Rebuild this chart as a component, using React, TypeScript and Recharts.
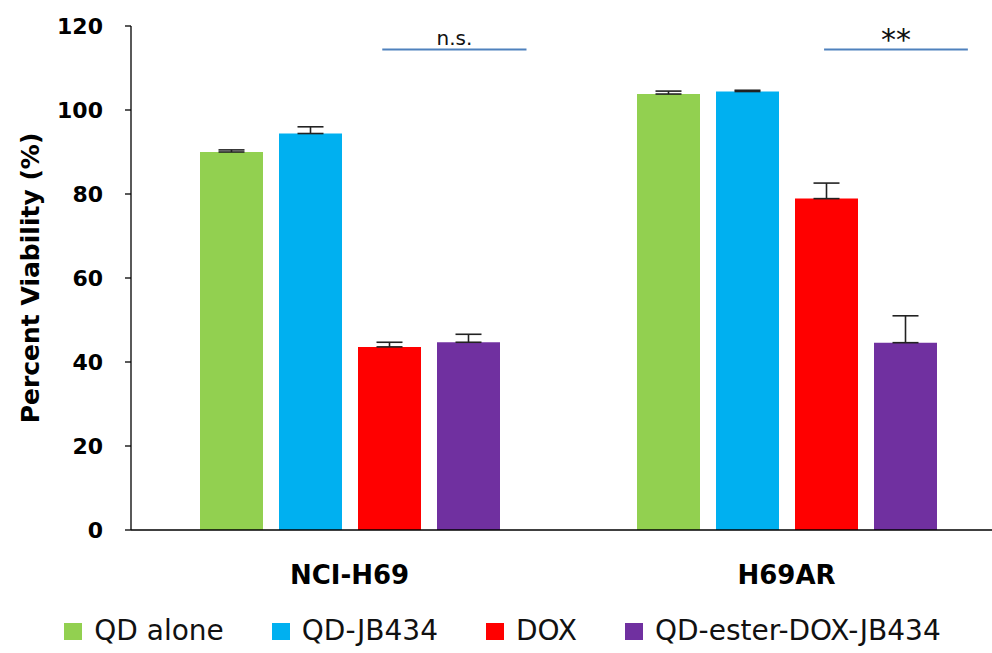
import React from "react";
import {
  BarChart,
  Bar,
  XAxis,
  YAxis,
  ErrorBar,
  Legend,
  ReferenceLine,
} from "recharts";

const cellLines = ["NCI-H69", "H69AR"];
const qdAlone = [90.0, 103.8];
const qdAloneErr = [0.5, 0.7];
const qdJb434 = [94.4, 104.4];
const qdJb434Err = [1.6, 0.3];
const dox = [43.6, 78.9];
const doxErr = [1.1, 3.7];
const qdEster = [44.7, 44.6];
const qdEsterErr = [1.9, 6.4];
const yTicks = [0, 20, 40, 60, 80, 100, 120];

// significance brackets: label, start/end as a fraction of the plot width, height in %
const sigLabels = ["n.s.", "**"];
const sigFrom = [0.2875, 0.793];
const sigTo = [0.4525, 0.9575];
const sigLevel = [114.4, 114.4];

const series = [
  { key: "qdAlone", name: "QD alone", color: "#92D050" },
  { key: "qdJb434", name: "QD-JB434", color: "#00B0F0" },
  { key: "dox", name: "DOX", color: "#FF0000" },
  { key: "qdEster", name: "QD-ester-DOX-JB434", color: "#7030A0" },
];

const data = cellLines.map((name, i) => ({
  name,
  qdAlone: qdAlone[i],
  qdAloneErr: [0, qdAloneErr[i]],
  qdJb434: qdJb434[i],
  qdJb434Err: [0, qdJb434Err[i]],
  dox: dox[i],
  doxErr: [0, doxErr[i]],
  qdEster: qdEster[i],
  qdEsterErr: [0, qdEsterErr[i]],
}));

const font = "'DejaVu Sans', sans-serif";

function LegendRow() {
  return (
    <div
      style={{
        boxSizing: "border-box",
        height: 40,
        paddingBottom: 8,
        display: "flex",
        alignItems: "flex-end",
        justifyContent: "center",
        gap: 48,
        fontFamily: font,
        fontSize: 28,
        lineHeight: "28px",
        color: "#111",
        whiteSpace: "nowrap",
      }}
    >
      {series.map((s) => (
        <div key={s.key} style={{ display: "flex", alignItems: "center" }}>
          <span
            style={{
              width: 18,
              height: 17,
              background: s.color,
              marginRight: 12,
              display: "inline-block",
            }}
          />
          <span>{s.name}</span>
        </div>
      ))}
    </div>
  );
}

export default function App() {
  return (
    <div
      style={{
        position: "fixed",
        left: 0,
        top: 0,
        width: 992,
        height: 653,
        overflow: "hidden",
        background: "#fff",
      }}
    >
      <BarChart
        width={1005}
        height={653}
        data={data}
        margin={{ top: 26, right: 0, left: 0, bottom: 0 }}
        barCategoryGap={68}
        barGap={16}
      >
        <XAxis
          dataKey="name"
          tickLine={false}
          axisLine={{ stroke: "#000", strokeWidth: 1.3 }}
          tick={{ fill: "#000", fontSize: 26, fontWeight: 700, fontFamily: font }}
          tickMargin={30}
          height={83}
        />
        <XAxis
          xAxisId="sig"
          type="number"
          domain={[0, 1]}
          allowDataOverflow
          hide
        />
        <YAxis
          domain={[0, 120]}
          ticks={yTicks}
          width={131}
          tickSize={6}
          tickMargin={22}
          axisLine={{ stroke: "#000", strokeWidth: 1.3 }}
          tickLine={{ stroke: "#000", strokeWidth: 1.3 }}
          tick={{ fill: "#000", fontSize: 22, fontWeight: 700, fontFamily: font }}
          label={{
            value: "Percent Viability (%)",
            angle: -90,
            position: "center",
            dx: -35,
            fill: "#000",
            fontSize: 25,
            fontWeight: 700,
            fontFamily: font,
          }}
        />
        {series.map((s) => (
          <Bar
            key={s.key}
            dataKey={s.key}
            name={s.name}
            fill={s.color}
            barSize={63}
            isAnimationActive={false}
          >
            <ErrorBar
              dataKey={`${s.key}Err`}
              direction="y"
              width={13}
              stroke="#222"
              strokeWidth={1.6}
            />
          </Bar>
        ))}
        {sigLabels.map((lab, i) => (
          <ReferenceLine
            key={lab}
            xAxisId="sig"
            ifOverflow="visible"
            segment={[
              { x: sigFrom[i], y: sigLevel[i] },
              { x: sigTo[i], y: sigLevel[i] },
            ]}
            stroke="#4F81BD"
            strokeWidth={2}
            label={{
              value: lab,
              position: "top",
              offset: lab === "**" ? 0 : 5,
              fill: "#111",
              fontSize: lab === "**" ? 30 : 20,
              fontFamily: font,
            }}
          />
        ))}
        <Legend verticalAlign="bottom" height={40} content={() => <LegendRow />} />
      </BarChart>
    </div>
  );
}
